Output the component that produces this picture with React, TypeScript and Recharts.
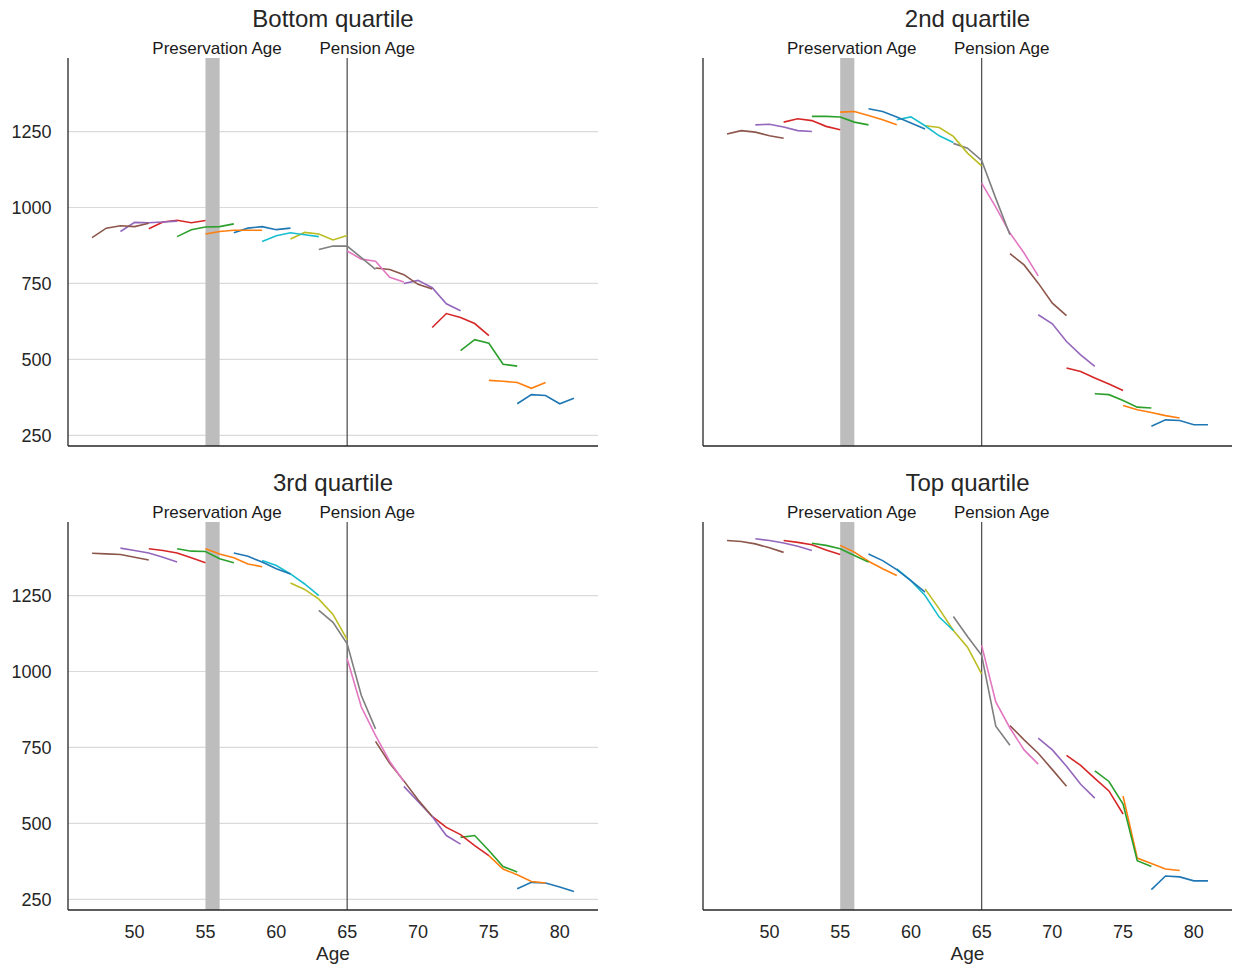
import { LineChart, Line, XAxis, YAxis, CartesianGrid, ReferenceLine, ReferenceArea } from 'recharts';

const ages = [47, 48, 49, 50, 51, 52, 53, 54, 55, 56, 57, 58, 59, 60, 61, 62, 63, 64, 65, 66, 67, 68, 69, 70, 71, 72, 73, 74, 75, 76, 77, 78, 79, 80, 81];
// each cohort is followed for 5 years starting at this age (oldest cohort first)
const cohortStarts = [77, 75, 73, 71, 69, 67, 65, 63, 61, 59, 57, 55, 53, 51, 49, 47];
const xTicks = [50, 55, 60, 65, 70, 75, 80];
const yTicks = [250, 500, 750, 1000, 1250];

const bottomQuartile = [
    [354, 384, 381, 354, 372],
    [431, 428, 424, 405, 424],
    [529, 565, 553, 484, 478],
    [605, 651, 638, 618, 578],
    [750, 760, 736, 683, 660],
    [801, 796, 779, 747, 732],
    [857, 830, 823, 770, 755],
    [862, 873, 873, 835, 796],
    [896, 918, 913, 893, 908],
    [888, 907, 917, 910, 904],
    [917, 932, 937, 927, 932],
    [913, 921, 925, 925, 925],
    [904, 927, 936, 937, 946],
    [930, 952, 958, 950, 957],
    [921, 951, 950, 952, 955],
    [901, 932, 940, 937, 948],
];

const secondQuartile = [
    [280, 301, 299, 285, 285],
    [348, 334, 325, 315, 307],
    [387, 384, 365, 343, 340],
    [472, 460, 439, 419, 398],
    [647, 617, 559, 515, 477],
    [848, 811, 751, 685, 644],
    [1080, 1001, 916, 850, 775],
    [1211, 1195, 1155, 1030, 910],
    [1269, 1263, 1234, 1179, 1137],
    [1289, 1298, 1269, 1236, 1214],
    [1325, 1316, 1298, 1278, 1258],
    [1314, 1316, 1303, 1289, 1272],
    [1300, 1300, 1298, 1281, 1272],
    [1281, 1292, 1286, 1267, 1256],
    [1272, 1274, 1265, 1253, 1250],
    [1242, 1253, 1248, 1236, 1228],
];

const thirdQuartile = [
    [285, 306, 304, 291, 276],
    [394, 350, 331, 309, 304],
    [454, 460, 411, 358, 340],
    [523, 487, 463, 427, 394],
    [622, 572, 523, 460, 432],
    [770, 698, 640, 578, 523],
    [1042, 883, 790, 704, 638],
    [1201, 1162, 1091, 921, 811],
    [1291, 1270, 1238, 1188, 1105],
    [1365, 1349, 1321, 1288, 1250],
    [1390, 1379, 1360, 1338, 1321],
    [1404, 1387, 1374, 1354, 1345],
    [1404, 1396, 1395, 1371, 1358],
    [1404, 1398, 1390, 1374, 1358],
    [1406, 1398, 1390, 1376, 1360],
    [1389, 1387, 1385, 1376, 1367],
];

const topQuartile = [
    [282, 327, 324, 311, 311],
    [590, 386, 368, 350, 345],
    [673, 638, 564, 377, 358],
    [724, 691, 648, 607, 531],
    [781, 742, 688, 629, 583],
    [822, 775, 731, 677, 622],
    [1086, 900, 814, 742, 695],
    [1181, 1115, 1053, 820, 757],
    [1272, 1206, 1135, 1080, 992],
    [1338, 1299, 1250, 1179, 1135],
    [1387, 1365, 1335, 1299, 1261],
    [1415, 1393, 1363, 1338, 1316],
    [1422, 1415, 1404, 1382, 1360],
    [1431, 1425, 1417, 1400, 1385],
    [1437, 1431, 1423, 1412, 1398],
    [1431, 1428, 1420, 1407, 1392],
];

const palette = ['#1f77b4', '#ff7f0e', '#2ca02c', '#d62728', '#9467bd', '#8c564b', '#e377c2', '#7f7f7f', '#bcbd22', '#17becf'];
const ink = '#262626';

function buildRows(values: number[][]) {
    return ages.map((age) => {
        const row: Record<string, number> = { age };
        cohortStarts.forEach((start, i) => {
            const k = age - start;
            if (k >= 0 && k < values[i].length) row[`c${i}`] = values[i][k];
        });
        return row;
    });
}

const topLabel = (text: string, shift: number) => (props: any) => {
    const vb = props.viewBox;
    if (!vb) return null;
    return (
        <text x={vb.x + (vb.width || 0) / 2 + shift} y={vb.y - 4} textAnchor="middle" fontSize={17} fill="#1a1a1a">
            {text}
        </text>
    );
};

interface PanelProps {
    title: string;
    values: number[][];
    left: number;
    top: number;
    bottomRow: boolean;
    leftCol: boolean;
}

function Panel({ title, values, left, top, bottomRow, leftCol }: PanelProps) {
    const width = leftCol ? 606 : 605;
    const axisHeight = bottomRow ? 60 : 5;
    const height = 58 + 388 + axisHeight;
    const plotW = width - 68 - 8;
    return (
        <>
            <div style={{ position: 'absolute', left: left + 68, top: top + 7, width: plotW, textAlign: 'center', fontSize: 24, lineHeight: '24px', color: ink }}>
                {title}
            </div>
            <div style={{ position: 'absolute', left, top }}>
                <LineChart width={width} height={height} data={buildRows(values)} margin={{ top: 58, right: 8, bottom: 0, left: 0 }}>
                    <CartesianGrid vertical={false} horizontalValues={yTicks} stroke="#dadada" strokeWidth={1.2} />
                    <XAxis
                        dataKey="age"
                        type="number"
                        domain={[45.3, 82.7]}
                        ticks={xTicks}
                        allowDataOverflow
                        height={axisHeight}
                        tickLine={false}
                        tickSize={8}
                        tickMargin={7}
                        axisLine={{ stroke: ink, strokeWidth: 1.3 }}
                        tick={bottomRow ? { fill: ink, fontSize: 18 } : false}
                        label={bottomRow ? { value: 'Age', position: 'insideBottom', offset: 10, fill: ink, fontSize: 19 } : undefined}
                    />
                    <YAxis
                        type="number"
                        domain={[215, 1492]}
                        ticks={yTicks}
                        allowDataOverflow
                        width={68}
                        tickLine={false}
                        tickSize={8}
                        tickMargin={8.5}
                        axisLine={{ stroke: ink, strokeWidth: 1.3 }}
                        tick={leftCol ? { fill: ink, fontSize: 18 } : false}
                    />
                    <ReferenceArea x1={55} x2={56} fill="#bdbdbd" fillOpacity={1} stroke="none" label={topLabel('Preservation Age', 4.5)} />
                    <ReferenceLine x={65} stroke="#555555" strokeWidth={1.3} label={topLabel('Pension Age', 20)} />
                    {cohortStarts.map((start, i) => (
                        <Line
                            key={start}
                            type="linear"
                            dataKey={`c${i}`}
                            stroke={palette[i % palette.length]}
                            strokeWidth={1.6}
                            dot={false}
                            activeDot={false}
                            isAnimationActive={false}
                        />
                    ))}
                </LineChart>
            </div>
        </>
    );
}

export default function App() {
    return (
        <div style={{ position: 'absolute', left: 0, top: 0, width: 1240, height: 973, background: '#fff', fontFamily: '"Liberation Sans", Arial, sans-serif' }}>
            <Panel title="Bottom quartile" values={bottomQuartile} left={0} top={0} bottomRow={false} leftCol={true} />
            <Panel title="2nd quartile" values={secondQuartile} left={635} top={0} bottomRow={false} leftCol={false} />
            <Panel title="3rd quartile" values={thirdQuartile} left={0} top={464} bottomRow={true} leftCol={true} />
            <Panel title="Top quartile" values={topQuartile} left={635} top={464} bottomRow={true} leftCol={false} />
        </div>
    );
}
